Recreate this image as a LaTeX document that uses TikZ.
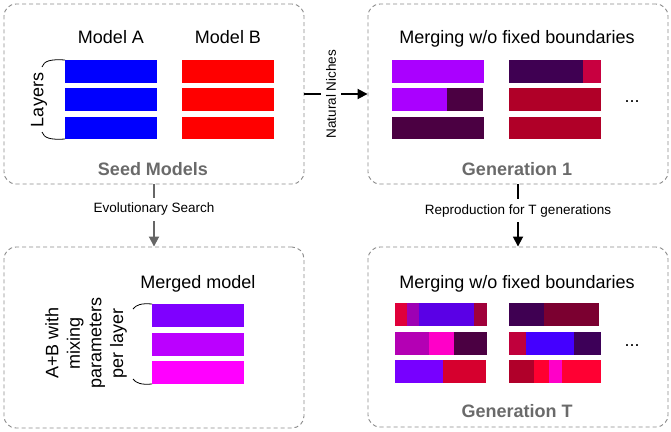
\documentclass[tikz,border=0pt]{standalone}
\usepackage{fontspec}
\setmainfont{Liberation Sans}
\usetikzlibrary{arrows.meta}
\definecolor{boxgray}{HTML}{8A8A8A}
\definecolor{capgray}{HTML}{6A6A6A}
\definecolor{arrgray}{HTML}{666666}
\definecolor{violetA}{HTML}{AA00FF}
\definecolor{plum}{HTML}{4B0042}
\definecolor{aubergine}{HTML}{3F0052}
\definecolor{crimson}{HTML}{B00028}
\definecolor{rosered}{HTML}{C80040}
\tikzstyle{panel} = [draw=boxgray, dash pattern=on 4pt off 3pt, line width=0.9pt, rounded corners=12pt, minimum width=300pt, minimum height=180pt]
\tikzstyle{arrow} = [line width=1.8pt, -{Triangle[length=10pt,width=10pt]}]
\tikzstyle{head} = [font=\fontsize{18}{21.6}\selectfont, anchor=base]
\tikzstyle{caption} = [font=\bfseries\fontsize{18}{21.6}\selectfont, text=capgray, anchor=base]
\tikzstyle{edgelabel} = [font=\fontsize{13.5}{16}\selectfont, fill=white, inner sep=5pt]
\tikzstyle{brace} = [line width=0.8pt]

\begin{document}
\begin{tikzpicture}[x=1pt, y=-1pt]
	\useasboundingbox (0,0) rectangle (671,431);
	% panels
	\node[panel] (seed) at (154,94) {};
	\node[panel] (gen1) at (518,94) {};
	\node[panel, minimum height=181pt] (merged) at (154,337.5) {};
	\node[panel] (genT) at (518,337) {};

	% seed models
	\node[head] (modelA) at (111,43) {Model A};
	\node[head] (modelB) at (228,43) {Model B};
	\fill[blue] (65,60) rectangle (157,83);
	\fill[blue] (65,88) rectangle (157,111);
	\fill[blue] (65,117) rectangle (157,139);
	\fill[red] (182,60) rectangle (274,83);
	\fill[red] (182,88) rectangle (274,111);
	\fill[red] (182,117) rectangle (274,139);
	\draw[brace] (65,60) .. controls (50,59) and (44,61) .. (42,67);
	\draw[brace] (42,132) .. controls (44,138) and (50,140) .. (65,139);
	\node[head, anchor=center, rotate=90] (layers) at (39,100) {Layers};
	\node[caption] (seedcap) at (153,175) {Seed Models};

	% generation 1
	\node[head] (merge1) at (517,43) {Merging w/o fixed boundaries};
	\fill[violetA] (392,60) rectangle (484,83);
	\fill[violetA] (392,88) rectangle (447,111);
	\fill[plum] (447,88) rectangle (483,111);
	\fill[plum] (392,117) rectangle (484,139);
	\fill[aubergine] (509,60) rectangle (583,83);
	\fill[rosered] (583,60) rectangle (601,83);
	\fill[crimson] (509,88) rectangle (601,111);
	\fill[crimson] (509,117) rectangle (601,139);
	\node[head, anchor=center] (dots1) at (632,102) {...};
	\node[caption] (gen1cap) at (517,175) {Generation 1};

	% merged model
	\node[head] (mergedhead) at (198,288) {Merged model};
	\fill[fill={rgb,255:red,127;green,0;blue,255}] (152,304) rectangle (244,327);
	\fill[fill={rgb,255:red,187;green,0;blue,255}] (152,333) rectangle (244,356);
	\fill[fill={rgb,255:red,255;green,0;blue,255}] (152,361) rectangle (244,384);
	\draw[brace] (152,304) .. controls (141,303) and (136,305) .. (133,309);
	\draw[brace] (133,379) .. controls (136,383) and (141,385) .. (152,384);
	\node[head, anchor=center, rotate=90, align=center] (mixing) at (86,343) {A+B with\\mixing\\parameters\\per layer};

	% generation T
	\node[head] (merge2) at (517,288) {Merging w/o fixed boundaries};
	\fill[fill={rgb,255:red,224;green,0;blue,58}] (395,303) rectangle (407,326);
	\fill[fill={rgb,255:red,158;green,0;blue,180}] (407,303) rectangle (419,326);
	\fill[fill={rgb,255:red,90;green,0;blue,230}] (419,303) rectangle (474,326);
	\fill[fill={rgb,255:red,160;green,0;blue,58}] (474,303) rectangle (487,326);
	\fill[fill={rgb,255:red,180;green,0;blue,180}] (395,332) rectangle (429,355);
	\fill[fill={rgb,255:red,255;green,0;blue,200}] (429,332) rectangle (454,355);
	\fill[plum] (454,332) rectangle (487,355);
	\fill[fill={rgb,255:red,119;green,0;blue,255}] (395,360) rectangle (443,383);
	\fill[fill={rgb,255:red,214;green,0;blue,46}] (443,360) rectangle (486,383);
	\fill[aubergine] (509,303) rectangle (544,326);
	\fill[fill={rgb,255:red,123;green,0;blue,48}] (544,303) rectangle (599,326);
	\fill[fill={rgb,255:red,192;green,0;blue,60}] (509,332) rectangle (526,355);
	\fill[fill={rgb,255:red,68;green,0;blue,255}] (526,332) rectangle (574,355);
	\fill[fill={rgb,255:red,61;green,0;blue,88}] (574,332) rectangle (601,355);
	\fill[fill={rgb,255:red,176;green,0;blue,42}] (509,360) rectangle (534,383);
	\fill[fill={rgb,255:red,255;green,0;blue,48}] (534,360) rectangle (549,383);
	\fill[fill={rgb,255:red,255;green,0;blue,200}] (549,360) rectangle (562,383);
	\fill[fill={rgb,255:red,255;green,0;blue,51}] (562,360) rectangle (601,383);
	\node[head, anchor=center] (dots2) at (632,346) {...};
	\node[caption] (genTcap) at (517,417) {Generation T};

	% connectors
	\draw[arrow] (seed.east) -- (gen1.west) node[edgelabel, pos=0.42, rotate=90] (niches) {Natural Niches};
	\draw[arrow, draw=arrgray, fill=arrgray] (seed.south) -- (merged.north) node[edgelabel, pos=0.4] (evo) {Evolutionary Search};
	\draw[arrow] (gen1.south) -- (genT.north) node[edgelabel, pos=0.42] (repro) {Reproduction for T generations};
\end{tikzpicture}
\end{document}
